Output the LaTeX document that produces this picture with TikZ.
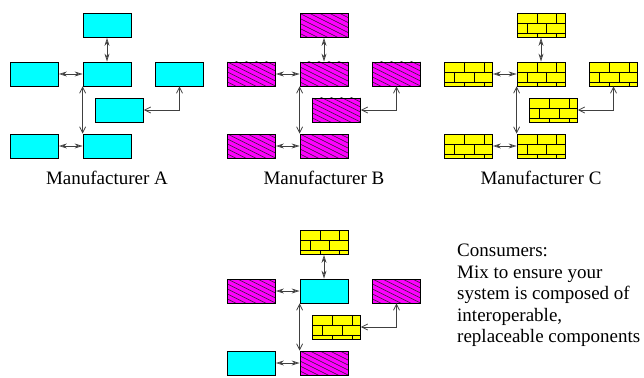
\documentclass[tikz,border=0pt]{standalone}
\usepackage{fontspec}
\setmainfont{Liberation Serif}
\usetikzlibrary{arrows.meta}
\definecolor{partcyan}{RGB}{0,255,255}
\definecolor{partmagenta}{RGB}{255,0,255}
\definecolor{partyellow}{RGB}{255,255,0}

\begin{document}
\begin{tikzpicture}
  [x=1pt,y=-1pt,
    every node/.style={font=\fontsize{19}{21.5}\selectfont},
    part/.style={draw,line width=0.8pt,minimum width=48pt,minimum height=24pt,inner sep=0pt},
    cyanpart/.style={fill=partcyan},
    hatchpart/.style={fill=partmagenta,path picture={
        % slanted hatching, clipped to the box
        \foreach \hy in {-25,-20,...,25}
          \draw[line width=0.6pt,black!85] (path picture bounding box.north west)
            ++(0pt,-\hy pt) -- ++(48pt,-24pt);
      }},
    brickpart/.style={fill=partyellow,path picture={
        % mortar joints, counted down from the top left corner
        \foreach \by in {10,20}
          \draw[line width=0.8pt] (path picture bounding box.north west)
            ++(0pt,-\by pt) -- ++(48pt,0pt);
        \foreach \bx/\by/\bh in {20/0/10,39.5/0/10,10/10/10,29.5/10/10,20/20/4,39.5/20/4}
          \draw[line width=0.8pt] (path picture bounding box.north west)
            ++(\bx pt,-\by pt) -- ++(0pt,-\bh pt);
      }},
    link/.style={draw=black!75,line width=0.8pt},
    swap/.style={link,{Stealth[open,length=8pt,width=5pt]}-{Stealth[open,length=8pt,width=5pt]}},
    wire/.style={link,{Straight Barb[length=6pt,width=6pt]}-{Straight Barb[length=6pt,width=6pt]}},
]
  \useasboundingbox (0,0) rectangle (644,377);

  % one cluster of parts per maker, the last one mixed
  \foreach \g/\dx/\dy/\t/\m/\l/\r/\o/\a/\b in {
      A/0/0/cyanpart/cyanpart/cyanpart/cyanpart/cyanpart/cyanpart/cyanpart,
      B/217/0/hatchpart/hatchpart/hatchpart/hatchpart/hatchpart/hatchpart/hatchpart,
      C/434/0/brickpart/brickpart/brickpart/brickpart/brickpart/brickpart/brickpart,
      D/217/217/brickpart/cyanpart/hatchpart/hatchpart/brickpart/cyanpart/hatchpart}
  {
    \begin{scope}[shift={(\dx,\dy)}]
      \node[part,\t] (\g-top) at (107,25.5) {};
      \node[part,\m] (\g-mid) at (107,74) {};
      \node[part,\l] (\g-left) at (34.5,74) {};
      \node[part,\r] (\g-right) at (179.5,74) {};
      \node[part,\o] (\g-off) at (119.5,110) {};
      \node[part,\a] (\g-bl) at (34.5,146) {};
      \node[part,\b] (\g-bc) at (107,146) {};

      \draw[swap] (\g-top.south) -- (\g-mid.north);
      \draw[swap] (\g-left.east) -- (\g-mid.west);
      \draw[swap] (\g-bl.east) -- (\g-bc.west);
      \draw[wire] (\g-mid.south west) -- (\g-bc.north west);
      \draw[wire] (\g-right.south) |- (\g-off.east);
    \end{scope}
  }

  \foreach \g/\dx in {A/0,B/217,C/434}
    \node[anchor=base] (maker\g) at (107+\dx,184) {Manufacturer \g};

  \node[anchor=north west,inner sep=0pt,align=left] (advice) at (457,244)
    {Consumers:\\Mix to ensure your\\system is composed of\\interoperable,\\replaceable components};
\end{tikzpicture}
\end{document}
